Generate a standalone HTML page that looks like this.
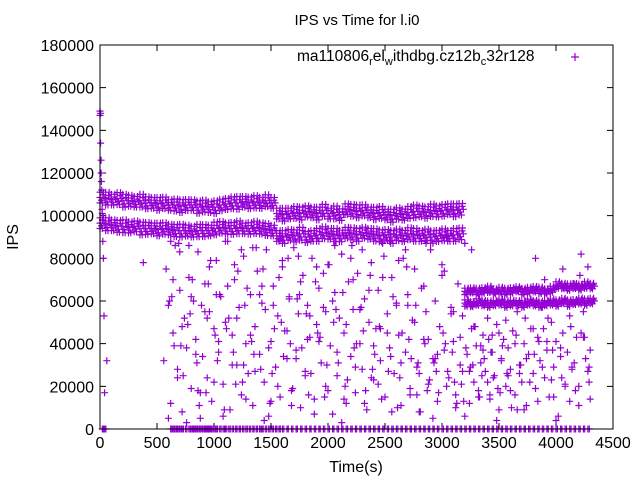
<!DOCTYPE html>
<html><head><meta charset="utf-8"><style>
html,body{margin:0;padding:0;background:#fff}
svg{display:block;font-family:"Liberation Sans",sans-serif}
</style></head><body>
<svg id="chart" width="640" height="480" viewBox="0 0 640 480">
<rect width="640" height="480" fill="#fff"/>
<text x="357" y="25" font-size="15" text-anchor="middle">IPS vs Time for l.i0</text>
<text x="18" y="237" font-size="16" text-anchor="middle" transform="rotate(-90 18 237)">IPS</text>
<text x="356" y="472" font-size="16" text-anchor="middle">Time(s)</text>
<g id="ticks"></g>
<g id="marks"></g>
<rect x="100" y="45" width="513" height="384" fill="none" stroke="#000" stroke-width="1"/>
<g>
<text x="297" y="61" font-size="15.5">ma110806<tspan font-size="11" dy="4">r</tspan><tspan dy="-4">el</tspan><tspan font-size="11" dy="4">w</tspan><tspan dy="-4">ithdbg.cz12b</tspan><tspan font-size="11" dy="4">c</tspan><tspan dy="-4">32r128</tspan></text>
<path d="M571 57h8M575 53v8" stroke="#9400d3" stroke-width="1.2"/>
</g>
</svg>
<script>
const xTicks=[0,500,1000,1500,2000,2500,3000,3500,4000,4500];
const yTicks=[0,20000,40000,60000,80000,100000,120000,140000,160000,180000];
const bandAT=[0,50,100,150,200,250,300,350,400,450,500,550,600,650,700,750,800,850,900,950,1000,1050,1100,1150,1200,1250,1300,1350,1400,1450,1500];
const bandAUpper=[108500,108000,107500,108000,107000,107000,106500,107000,106000,106000,105500,106000,105000,105000,104500,105000,105000,104000,104500,104000,104000,105000,105500,106000,106000,106500,106000,106500,106000,107000,106000];
const bandALower=[96500,96000,95500,95000,95000,94500,95000,94000,94000,94000,93500,94000,93500,93000,93000,93000,92500,93000,93000,93000,94000,94500,94000,94000,94500,94000,94000,94500,94000,93500,93000];
const bandBT=[1550,1600,1650,1700,1750,1800,1850,1900,1950,2000,2050,2100,2150,2200,2250,2300,2350,2400,2450,2500,2550,2600,2650,2700,2750,2800,2850,2900,2950,3000,3050,3100,3150];
const bandBUpper=[101000,100500,101000,101500,101000,102000,101500,101000,102500,101000,101500,100500,103000,102500,102000,102500,101500,101000,101500,100500,100000,101000,100500,101500,102000,102000,101500,102500,102000,102500,103000,102500,103000];
const bandBLower=[90500,90000,91000,90500,91500,90000,90500,91000,92000,91500,91000,90500,92000,91500,91000,92000,91500,91000,90500,91000,90000,91000,90500,91500,91000,90500,91000,90000,90500,91000,90500,91000,91500];
const bandCT=[3200,3250,3300,3350,3400,3450,3500,3550,3600,3650,3700,3750,3800,3850,3900,3950,4000,4050,4100,4150,4200,4250,4300];
const bandCUpper=[64500,65000,64500,65000,65500,64500,65000,64500,65000,65500,64500,65000,65500,65000,64500,65500,67500,67000,66500,67000,66500,67500,67000];
const bandCLower=[59000,58500,59500,59000,58500,59000,59500,58500,59000,59000,58500,59500,59000,58500,59000,59500,59000,60000,59000,59500,60000,59500,60000];
const bandSpread=[2500,3000,2500,2800,3000,2600,2500,3000,2800,2500,3000,2700,2500,2800,3000,2600,2500,2900,2800,2500,3000,2700,2600,2800,3000,2500,2700,2900,2600,2800,2500,3000,2700];
const bandCSpread=[1500,1200,1500,1300,1500,1200,1400,1500,1300,1200,1500,1400,1300,1500,1200,1400,1500,1300,1500,1200,1400,1500,1300];
const startT=[0,0,5,5,10,10,12,15,18,20,22,25,30,35,60,40,30];
const startV=[149000,147000,148000,134000,126000,120000,116000,112000,103000,101000,98000,88000,80000,53000,32000,17000,0];
const noiseT=[380,560,580,600,620,640,660,680,700,720,740,760,780,800,820,840,860,880,900,920,940,960,980,1000,1020,1040,1060,1080,1100,1120,1140,1160,1180,1200,1220,1240,1260,1280,1300,1320,1340,1360,1380,1400,1420,1440,1460,1480,1500,1520,1540,1560,1580,1600,1620,1640,1660,1680,1700,1720,1740,1760,1780,1800,1820,1840,1860,1880,1900,1920,1940,1960,1980,2000,2020,2040,2060,2080,2100,2120,2140,2160,2180,2200,2220,2240,2260,2280,2300,2320,2340,2360,2380,2400,2420,2440,2460,2480,2500,2520,2540,2560,2580,2600,2620,2640,2660,2680,2700,2720,2740,2760,2780,2800,2820,2840,2860,2880,2900,2920,2940,2960,2980,3000,3020,3040,3060,3080,3100,3120,3140,3160,3180,3200,3220,3240,3260,3280,3300,3320,3340,3360,3380,3400,3420,3440,3460,3480,3500,3520,3540,3560,3580,3600,3620,3640,3660,3680,3700,3720,3740,3760,3780,3800,3820,3840,3860,3880,3900,3920,3940,3960,3980,4000,4020,4040,4060,4080,4100,4120,4140,4160,4180,4200,4220,4240,4260,4280,4300,
610,650,690,730,770,810,850,890,930,970,1010,1050,1090,1130,1170,1210,1250,1290,1330,1370,1410,1450,1490,1530,1570,1610,1650,1690,1730,1770,1810,1850,1890,1930,1970,2010,2050,2090,2130,2170,2210,2250,2290,2330,2370,2410,2450,2490,2530,2570,2610,2650,2690,2730,2770,2810,2850,2890,2930,2970,3010,3050,3090,3130,3170,3210,3250,3290,3330,3370,3410,3450,3490,3530,3570,3610,3650,3690,3730,3770,3810,3850,3890,3930,3970,4010,4050,4090,4130,4170,4210,4250,4290,
630,710,790,870,950,1030,1110,1190,1270,1350,1430,1510,1590,1670,1750,1830,1910,1990,2070,2150,2230,2310,2390,2470,2550,2630,2710,2790,2870,2950,3030,3110,3190,3270,3350,3430,3510,3590,3670,3750,3830,3910,3990,4070,4150,4230,4310];
const noiseV=[78000,32000,75000,58000,12000,45000,86000,28000,65000,8000,52000,38000,71000,19000,60000,42000,83000,5000,34000,68000,24000,55000,13000,47000,79000,36000,62000,21000,50000,88000,9000,44000,70000,30000,57000,16000,81000,40000,26000,63000,11000,48000,74000,35000,59000,22000,84000,6000,41000,67000,29000,53000,15000,76000,46000,33000,61000,18000,85000,37000,54000,10000,72000,27000,58000,43000,80000,14000,49000,66000,31000,57000,20000,77000,39000,7000,64000,25000,52000,82000,45000,12000,69000,34000,56000,17000,73000,40000,28000,61000,9000,50000,78000,23000,47000,65000,32000,87000,15000,54000,38000,71000,26000,59000,44000,11000,80000,36000,63000,19000,51000,75000,29000,8000,66000,42000,55000,21000,84000,33000,60000,13000,48000,72000,37000,90000,24000,57000,41000,16000,68000,30000,53000,87000,35000,12000,47000,22000,39000,18000,31000,44000,27000,52000,14000,36000,25000,49000,9000,33000,42000,20000,38000,28000,46000,16000,55000,30000,22000,40000,11000,35000,47000,26000,19000,43000,32000,57000,24000,37000,15000,50000,29000,41000,6000,34000,45000,21000,36000,13000,28000,
68000,43000,20000,82000,55000,33000,76000,14000,60000,39000,87000,25000,49000,70000,31000,58000,17000,79000,44000,63000,9000,52000,36000,74000,22000,66000,41000,85000,28000,56000,12000,47000,71000,34000,80000,19000,61000,38000,54000,26000,69000,43000,15000,77000,50000,31000,64000,23000,86000,40000,57000,18000,72000,35000,48000,81000,27000,62000,10000,45000,76000,33000,58000,8000,40000,23000,31000,17000,45000,27000,36000,12000,21000,38000,29000,48000,15000,33000,42000,24000,19000,39000,26000,10000,44000,30000,52000,22000,35000,41000,47000,
52000,37000,59000,24000,66000,48000,18000,72000,43000,29000,62000,39000,54000,11000,68000,32000,47000,21000,58000,35000,75000,26000,50000,40000,63000,16000,45000,30000,56000,20000,38000,46000,28000,14000,34000,24000,42000,31000,18000,27000,40000,22000,13000,30000,25000,36000,17000];
const noiseT2=[600,640,680,720,760,800,840,880,920,960,1000,1040,1080,1120,1160,1200,1240,1280,1320,1360,1400,1440,1480,1520,1560,1600,1640,1680,1720,1760,1800,1840,1880,1920,1960,2000,2040,2080,2120,2160,2200,2240,2280,2320,2360,2400,2440,2480,2520,2560,2600,2640,2680,2720,2760,2800,2840,2880,2920,2960,3000,3040,3080,3120,3160,3200,3240,3280,3320,3360,3400,3440,3480,3520,3560,3600,3640,3680,3720,3760,3800,3840,3880,3920,3960,4000,4040,4080,4120,4160,4200,4240,4280,4300,
620,700,780,860,940,1020,1100,1180,1260,1340,1420,1500,1580,1660,1740,1820,1900,1980,2060,2140,2220,2300,2380,2460,2540,2620,2700,2780,2860,2940,3020,3100,3180,3260,3340,3420,3500,3580,3660,3740,3820,3900,3980,4060,4140,4220,4290];
const noiseV2=[5000,70000,24000,48000,3000,62000,35000,17000,55000,76000,22000,41000,6000,67000,30000,52000,84000,14000,44000,27000,63000,4000,38000,58000,20000,79000,46000,11000,33000,69000,25000,53000,7000,41000,73000,18000,60000,36000,3000,49000,80000,29000,56000,12000,65000,39000,21000,71000,45000,8000,58000,31000,84000,16000,50000,26000,67000,42000,5000,35000,77000,20000,54000,10000,43000,6000,27000,48000,15000,37000,22000,44000,4000,32000,51000,18000,40000,26000,9000,35000,47000,13000,29000,41000,23000,4000,38000,20000,53000,31000,11000,43000,27000,37000,
88000,83000,86000,18000,52000,63000,88000,77000,30000,85000,67000,13000,89000,62000,81000,42000,76000,55000,86000,14000,70000,84000,24000,47000,88000,79000,58000,16000,87000,33000,74000,55000,27000,84000,39000,16000,45000,25000,9000,33000,80000,70000,15000,75000,29000,45000,22000];
const zeroT=[20,40,620,640,660,680,700,720,750,780,800,820,840,860,880,900,920,930,940,950,960,980,1000,1020,1050,1080,1100,1130,1160,1190,1220,1250,1280,1310,1340,1370,1400,1420,1450,1480,1510,1540,1570,1600,1640,1680,1720,1760,1800,1840,1880,1920,1960,2000,2040,2080,2120,2160,2200,2240,2280,2320,2360,2400,2440,2480,2520,2560,2600,2640,2680,2720,2760,2800,2840,2880,2920,2960,3000,3040,3080,3120,3160,3200,3240,3280,3320,3360,3400,3440,3480,3520,3560,3600,3640,3680,3720,3760,3800,3840,3880,3920,3960,4000,4040,4080,4120,4160,4200,4240,4280];

const X0=100,X1=613,Y0=429,Y1=45;
const sx=t=>X0+(t/4500)*(X1-X0);
const sy=v=>Y0-(v/180000)*(Y0-Y1);
const NS="http://www.w3.org/2000/svg";
const tg=document.getElementById('ticks');
let tp="";
xTicks.forEach(t=>{
  const x=sx(t);
  tp+=`M${x} ${Y0}v-6M${x} ${Y1}v6`;
  const tx=document.createElementNS(NS,'text');
  tx.setAttribute('x',x);tx.setAttribute('y',Y0+19);
  tx.setAttribute('font-size','16');tx.setAttribute('text-anchor','middle');
  
  
  tx.textContent=t;tg.appendChild(tx);
});
yTicks.forEach(v=>{
  const y=sy(v);
  tp+=`M${X0} ${y}h6M${X1} ${y}h-6`;
  const tx=document.createElementNS(NS,'text');
  tx.setAttribute('x',X0-6);tx.setAttribute('y',y+6);
  tx.setAttribute('font-size','16');tx.setAttribute('text-anchor','end');
  
  
  tx.textContent=v;tg.appendChild(tx);
});
const tk=document.createElementNS(NS,'path');
tk.setAttribute('d',tp);tk.setAttribute('stroke','#000');


tg.appendChild(tk);

let d="";
const cross=(t,v)=>{
  if(!isFinite(t)||!isFinite(v))return;
  const x=sx(t),y=sy(v);
  d+=`M${(x-3.5).toFixed(1)} ${y.toFixed(1)}h7M${x.toFixed(1)} ${(y-3.5).toFixed(1)}v7`;
};
function band(T,U,L,S){
  T.forEach((t,i)=>{
    const s=S[i%S.length];
    [U[i],L[i]].forEach(v=>{
      cross(t,v-s);cross(t,v);cross(t,v+s);
      cross(t+12,v-s/2);cross(t+25,v+s/2);cross(t+37,v);
      cross(t+20,v-s);cross(t+30,v+s);
    });
  });
}
band(bandAT,bandAUpper,bandALower,bandSpread);
band(bandBT,bandBUpper,bandBLower,bandSpread);
band(bandCT,bandCUpper,bandCLower,bandCSpread);
startT.forEach((t,i)=>cross(t,startV[i]));
noiseT.forEach((t,i)=>cross(t,noiseV[i]));
noiseT2.forEach((t,i)=>cross(t,noiseV2[i]));
zeroT.forEach(t=>{cross(t,0);cross(t+12,0);});
const p=document.createElementNS(NS,'path');
p.setAttribute('d',d);p.setAttribute('stroke','#9400d3');p.setAttribute('stroke-width','1.2');p.setAttribute('fill','none');


document.getElementById('marks').appendChild(p);
</script>
</body></html>
